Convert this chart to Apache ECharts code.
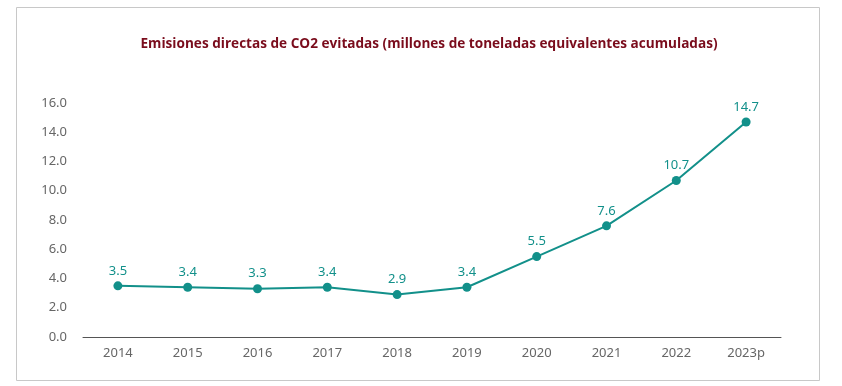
<!DOCTYPE html>
<html><head><meta charset="utf-8">
<script src="https://cdn.jsdelivr.net/npm/echarts@6/dist/echarts.min.js"></script>
<style>html,body{margin:0;padding:0;background:#fff}#c{width:842px;height:386px}</style>
</head><body><div id="c"></div>
<script>
const categories = ['2014','2015','2016','2017','2018','2019','2020','2021','2022','2023p'];
const values = [3.5, 3.4, 3.3, 3.4, 2.9, 3.4, 5.5, 7.6, 10.7, 14.7];
const yMin = 0, yMax = 16, yStep = 2;
const titleText = 'Emisiones directas de CO2 evitadas (millones de toneladas equivalentes acumuladas)';

const chart = echarts.init(document.getElementById('c'), null, {renderer: 'canvas'});
chart.setOption({
  backgroundColor: '#fff',
  animation: false,
  title: {
    text: titleText,
    left: 424, top: 32, textAlign: 'center',
    textStyle: {color: '#7a0c1c', fontSize: 13.6, fontWeight: 'bold', fontFamily: 'Open Sans'}
  },
  graphic: [{
    type: 'rect', shape: {x: 16.5, y: 7.5, width: 803, height: 373}, silent: true,
    style: {fill: 'none', stroke: '#c8c8c8', lineWidth: 1}
  }],
  grid: {left: 83, right: 61, top: 103, bottom: 49},
  xAxis: {
    type: 'category', data: categories, boundaryGap: true,
    axisLine: {lineStyle: {color: '#555', width: 1}},
    axisTick: {show: false},
    axisLabel: {color: '#666', fontSize: 13, fontFamily: 'Noto Sans', margin: 10}
  },
  yAxis: {
    type: 'value', min: yMin, max: yMax, interval: yStep,
    splitLine: {show: false}, axisLine: {show: false}, axisTick: {show: false},
    axisLabel: {color: '#666', fontSize: 13, fontFamily: 'Noto Sans', margin: 16,
      formatter: v => v.toFixed(1)}
  },
  series: [{
    type: 'line', data: values,
    symbol: 'circle', symbolSize: 9,
    lineStyle: {color: '#12908a', width: 2},
    itemStyle: {color: '#12908a'},
    label: {show: true, position: 'top', distance: 4, color: '#12908a', fontSize: 13,
      fontFamily: 'Noto Sans', formatter: p => p.value.toFixed(1)}
  }]
});
</script></body></html>
